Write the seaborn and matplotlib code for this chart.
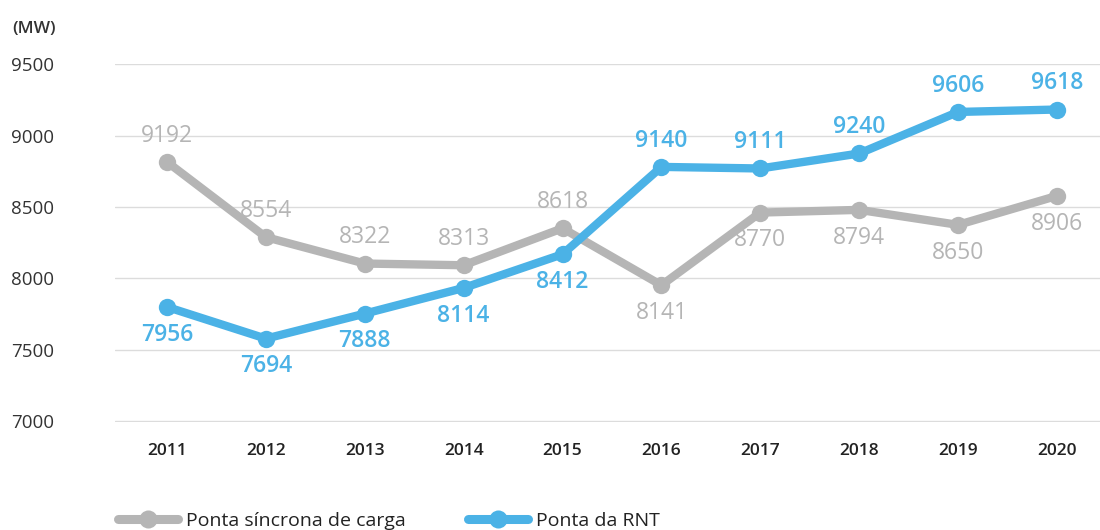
import pandas as pd
import seaborn as sns
import matplotlib.pyplot as plt
from matplotlib.lines import Line2D

# Values
years = [2011, 2012, 2013, 2014, 2015, 2016, 2017, 2018, 2019, 2020]
sincrona_pos = [8815, 8288, 8103, 8091, 8350, 7951, 8460, 8479, 8374, 8577]
rnt_pos = [7799, 7577, 7752, 7932, 8168, 8780, 8769, 8874, 9165, 9182]
sincrona_labels = [9192, 8554, 8322, 8313, 8618, 8141, 8770, 8794, 8650, 8906]
rnt_labels = [7956, 7694, 7888, 8114, 8412, 9140, 9111, 9240, 9606, 9618]
series_names = ['Ponta síncrona de carga', 'Ponta da RNT']
y_ticks = [7000, 7500, 8000, 8500, 9000, 9500]

GRAY = '#b5b5b5'
BLUE = '#4bb2e6'

sns.set_theme(style='white')
plt.rcParams['font.family'] = ['Open Sans', 'DejaVu Sans']

df = pd.DataFrame({
    'ano': years * 2,
    'valor': sincrona_pos + rnt_pos,
    'serie': [series_names[0]] * len(years) + [series_names[1]] * len(years),
})

fig = plt.figure(figsize=(11, 5.3), dpi=100)
ax = fig.add_axes([0.1045, 0.203, 0.8955, 0.676])

sns.lineplot(data=df, x='ano', y='valor', hue='serie', palette=[GRAY, BLUE],
             marker='o', markersize=12.5, markeredgewidth=0, linewidth=6,
             legend=False, ax=ax, clip_on=False)

# data labels: above/below placement per point
above_gray = [True, True, True, True, True, False, False, False, False, False]
above_blue = [False, False, False, False, False, True, True, True, True, True]
for x, y, lab, up in zip(years, sincrona_pos, sincrona_labels, above_gray):
    ax.annotate(str(lab), (x, y), xytext=(0, 19 if up else -20), textcoords='offset points',
                ha='center', va='center', fontsize=16.5, color=GRAY, fontweight='medium')
for x, y, lab, up in zip(years, rnt_pos, rnt_labels, above_blue):
    ax.annotate(str(lab), (x, y), xytext=(0, 19 if up else -20), textcoords='offset points',
                ha='center', va='center', fontsize=16.5, color=BLUE, fontweight='semibold')

ax.set_xlim(2010.474, 2020.435)
ax.set_ylim(6990, 9500)
ax.set_xticks(years)
ax.set_yticks(y_ticks)
ax.set_xlabel('')
ax.set_ylabel('')
ax.grid(axis='y', color='#dcdcdc', linewidth=1)
ax.grid(axis='x', visible=False)
for s in ax.spines.values():
    s.set_visible(False)
ax.tick_params(axis='y', length=0, pad=75, labelsize=13.5, labelcolor='#333333')
ax.tick_params(axis='x', length=0, pad=15, labelsize=12.5, labelcolor='#222222')
for t in ax.get_yticklabels():
    t.set_ha('left')
for t in ax.get_xticklabels():
    t.set_fontweight('semibold')

fig.text(0.011, 0.945, '(MW)', fontsize=12.5, color='#333333', fontweight='semibold',
         ha='left', va='center')

handles = [Line2D([], [], color=c, linewidth=6.5, marker='o', markersize=13, markeredgewidth=0)
           for c in [GRAY, BLUE]]
fig.legend(handles, series_names, loc='center left', bbox_to_anchor=(0.091, 0.017),
           ncol=2, frameon=False, fontsize=14, handlelength=3.1, handletextpad=0.4,
           columnspacing=3.2, labelcolor='#222222')

fig.savefig('out.png', dpi=100)
